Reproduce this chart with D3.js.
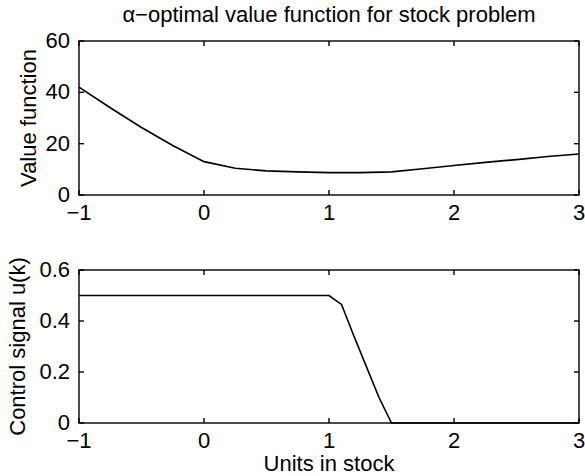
<!DOCTYPE html>
<html>
<head>
<meta charset="utf-8">
<script src="https://cdn.jsdelivr.net/npm/d3@7"></script>
<style>
body { margin: 0; background: #fff; }
svg { display: block; font-family: "Liberation Sans", Arial, sans-serif; }
</style>
</head>
<body>
<div class="chart"></div>
<script>
// data
var stockX = [-1, -0.75, -0.5, -0.25, 0, 0.25, 0.5, 0.75, 1, 1.25, 1.5, 1.75, 2, 2.25, 2.5, 2.75, 3];
var valueFn = [42, 34, 26.3, 19.3, 13, 10.4, 9.4, 9, 8.7, 8.7, 9, 10.2, 11.5, 12.7, 13.8, 15, 16];
var controlX = [-1, 0, 1, 1.1, 1.2, 1.3, 1.4, 1.5, 2, 3];
var controlU = [0.5, 0.5, 0.5, 0.465, 0.34, 0.22, 0.1, 0, 0, 0];
var xTicks = [-1, 0, 1, 2, 3];
var valueTicks = [0, 20, 40, 60];
var controlTicks = [0, 0.2, 0.4, 0.6];

var width = 585, height = 476;
var svg = d3.select(".chart").append("svg")
            .attr("width", width)
            .attr("height", height);

var left = 79, right = 579;
var fontSize = 22;

var xScale = d3.scaleLinear().domain([-1, 3]).range([left, right]);

function fmt(d) {
    return String(d).replace("-", "\u2212");
}

function panel(top, bottom, yDomain, yTicks, xs, ys) {
    var yScale = d3.scaleLinear().domain(yDomain).range([bottom, top]);
    var g = svg.append("g");

    // frame
    g.append("rect")
     .attr("x", left).attr("y", top)
     .attr("width", right - left).attr("height", bottom - top)
     .attr("fill", "none").attr("stroke", "#000").attr("stroke-width", 1.4);

    // ticks, inward on all four sides
    var tl = 5;
    xTicks.forEach(function(t) {
        var x = xScale(t);
        g.append("line").attr("x1", x).attr("x2", x).attr("y1", bottom).attr("y2", bottom - tl)
         .attr("stroke", "#000").attr("stroke-width", 1.4);
        g.append("line").attr("x1", x).attr("x2", x).attr("y1", top).attr("y2", top + tl)
         .attr("stroke", "#000").attr("stroke-width", 1.4);
        g.append("text").attr("x", x).attr("y", bottom + 25)
         .attr("text-anchor", "middle").attr("font-size", fontSize)
         .text(fmt(t));
    });
    yTicks.forEach(function(t) {
        var y = yScale(t);
        g.append("line").attr("x1", left).attr("x2", left + tl).attr("y1", y).attr("y2", y)
         .attr("stroke", "#000").attr("stroke-width", 1.4);
        g.append("line").attr("x1", right).attr("x2", right - tl).attr("y1", y).attr("y2", y)
         .attr("stroke", "#000").attr("stroke-width", 1.4);
        g.append("text").attr("x", left - 9).attr("y", y + 7)
         .attr("text-anchor", "end").attr("font-size", fontSize)
         .text(fmt(t));
    });

    var line = d3.line()
        .x(function(d, i) { return xScale(xs[i]); })
        .y(function(d) { return yScale(d); });
    g.append("path").datum(ys)
     .attr("d", line)
     .attr("fill", "none").attr("stroke", "#000").attr("stroke-width", 1.6);

    return g;
}

panel(41, 195, [0, 60], valueTicks, stockX, valueFn);
panel(270, 423, [0, 0.6], controlTicks, controlX, controlU);

// labels
svg.append("text").attr("x", (left + right) / 2).attr("y", 22)
   .attr("text-anchor", "middle").attr("font-size", fontSize)
   .text("\u03b1\u2212optimal value function for stock problem");

svg.append("text").attr("transform", "translate(36," + (41 + 195) / 2 + ") rotate(-90)")
   .attr("text-anchor", "middle").attr("font-size", fontSize)
   .text("Value function");

svg.append("text").attr("transform", "translate(25," + (270 + 423) / 2 + ") rotate(-90)")
   .attr("text-anchor", "middle").attr("font-size", fontSize)
   .text("Control signal u(k)");

svg.append("text").attr("x", (left + right) / 2).attr("y", 471)
   .attr("text-anchor", "middle").attr("font-size", fontSize)
   .text("Units in stock");
</script>
</body>
</html>
